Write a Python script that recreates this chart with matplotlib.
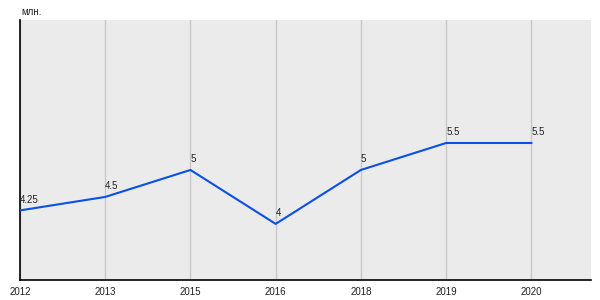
import matplotlib.pyplot as plt

# Chart data
years = ['2012', '2013', '2015', '2016', '2018', '2019', '2020']
values = [4.25, 4.5, 5, 4, 5, 5.5, 5.5]
value_labels = ['4.25', '4.5', '5', '4', '5', '5.5', '5.5']
unit_label = 'млн.'

plt.rcParams['font.family'] = ['Liberation Sans', 'DejaVu Sans']

fig = plt.figure(figsize=(6, 3), dpi=100)
ax = fig.add_axes([20 / 600, 20 / 300, 571 / 600, 260 / 300])
ax.set_facecolor('#ebebeb')

x = list(range(len(years)))
ax.plot(x, values, color='#0a50e6', linewidth=1.5, zorder=3)

# value labels just above each point
for xi, v, lab in zip(x, values, value_labels):
    ax.annotate(lab, (xi, v), xytext=(0, 4), textcoords='offset points',
                ha='left', va='bottom', fontsize=7, color='#222222')

ax.set_xlim(0, 6.7)
ax.set_ylim(2.96, 7.78)
ax.set_xticks(x)
ax.set_xticklabels(years, fontsize=7, color='#222222')
ax.set_yticks([])
ax.tick_params(axis='x', length=0, pad=5)
ax.grid(axis='x', color='#c8c8c8', linewidth=1)
ax.set_axisbelow(True)

for side in ['top', 'right']:
    ax.spines[side].set_visible(False)
ax.spines['left'].set_linewidth(1.2)
ax.spines['bottom'].set_linewidth(1.2)

fig.text(21 / 600, 1 - 12 / 300, unit_label, fontsize=7, ha='left', va='center', color='#222222')

fig.savefig('out.png', dpi=100)
